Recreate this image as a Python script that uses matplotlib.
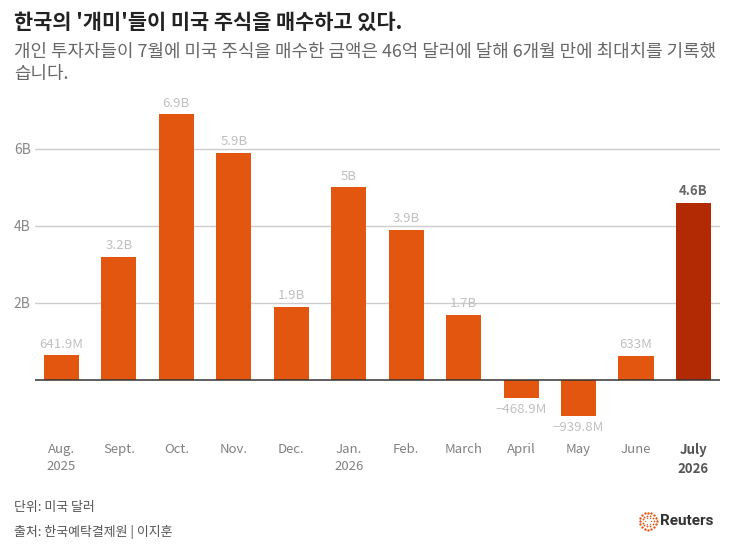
import matplotlib.pyplot as plt
import numpy as np

plt.rcParams['font.family'] = ['Noto Sans CJK KR', 'DejaVu Sans']

# 데이터 (단위: 10억 달러)
months = ['Aug.\n2025', 'Sept.', 'Oct.', 'Nov.', 'Dec.', 'Jan.\n2026',
          'Feb.', 'March', 'April', 'May', 'June', 'July\n2026']
values = [0.6419, 3.2, 6.9, 5.9, 1.9, 5.0, 3.9, 1.7, -0.4689, -0.9398, 0.633, 4.6]
labels = ['641.9M', '3.2B', '6.9B', '5.9B', '1.9B', '5B', '3.9B', '1.7B',
          '\u2212468.9M', '\u2212939.8M', '633M', '4.6B']
yticks = [2, 4, 6]
ytick_labels = ['2B', '4B', '6B']

orange = '#e35610'
dark = '#b12a03'

fig = plt.figure(figsize=(7.33, 5.54), dpi=100)
ax = fig.add_axes([0.0477, 0.2307, 0.9345, 0.6046])

x = np.arange(len(values))
colors = [orange] * (len(values) - 1) + [dark]
ax.bar(x, values, width=0.61, color=colors, zorder=3)

ax.set_xlim(-0.461, 11.461)
ax.set_ylim(-1.2, 7.5)

for s in ax.spines.values():
    s.set_visible(False)
ax.axhline(0, color='#333333', lw=1.1, zorder=4)
for t in yticks:
    ax.axhline(t, color='#cccccc', lw=1, zorder=1)

ax.set_yticks(yticks)
ax.set_yticklabels(ytick_labels, fontsize=10, color='#888888', fontweight='light')
ax.tick_params(axis='y', length=0, pad=3)
ax.set_xticks([])

for i, (v, lab) in enumerate(zip(values, labels)):
    last = i == len(values) - 1
    if v >= 0:
        ax.text(i, v + 0.12, lab, ha='center', va='bottom', fontsize=9.5,
                color='#666666' if last else '#c0c0c0',
                fontweight='bold' if last else 'light')
    else:
        ax.text(i, v - 0.12, lab, ha='center', va='top', fontsize=9.5,
                color='#c0c0c0', fontweight='light')

# 월 라벨
for i, m in enumerate(months):
    last = i == len(months) - 1
    ax.annotate(m, xy=(i, 0), xycoords=('data', 'figure fraction'),
                xytext=(i, 1 - 443 / 554), textcoords=('data', 'figure fraction'),
                ha='center', va='top', fontsize=9.5, linespacing=1.45,
                color='#555555' if last else '#808080',
                fontweight='bold' if last else 'light', annotation_clip=False)

fig.text(14 / 733, 1 - 22 / 554, "한국의 '개미'들이 미국 주식을 매수하고 있다.",
         fontsize=15, fontweight='bold', color='#222222', va='center')
fig.text(14 / 733, 1 - 52 / 554,
         '개인 투자자들이 7월에 미국 주식을 매수한 금액은 46억 달러에 달해 6개월 만에 최대치를 기록했',
         fontsize=12.9, color='#666666', va='center', fontweight='light')
fig.text(14 / 733, 1 - 74 / 554, '습니다.', fontsize=12.9, color='#666666', va='center',
         fontweight='light')

fig.text(14 / 733, 1 - 507 / 554, '단위: 미국 달러', fontsize=9.3, color='#555555', va='center',
         fontweight='light')
fig.text(14 / 733, 1 - 532 / 554, '출처: 한국예탁결제원 | 이지훈', fontsize=9.3, color='#555555',
         va='center', fontweight='light')

# Reuters 로고
lx, ly = 648 / 733, 1 - 521 / 554
for r, n, s in [(8.5, 16, 1.7), (5.5, 11, 1.3), (3, 6, 0.9)]:
    ang = np.linspace(0, 2 * np.pi, n, endpoint=False)
    fig.add_artist(plt.Line2D(lx + r * np.cos(ang) / 733, ly + r * np.sin(ang) / 554,
                              ls='none', marker='o', ms=s, color=orange, mew=0,
                              transform=fig.transFigure))
fig.text(660 / 733, ly, 'Reuters', fontsize=11, fontweight='bold', color='#333333',
         va='center', family=['Roboto', 'DejaVu Sans'])

fig.savefig('out.png', dpi=100)
